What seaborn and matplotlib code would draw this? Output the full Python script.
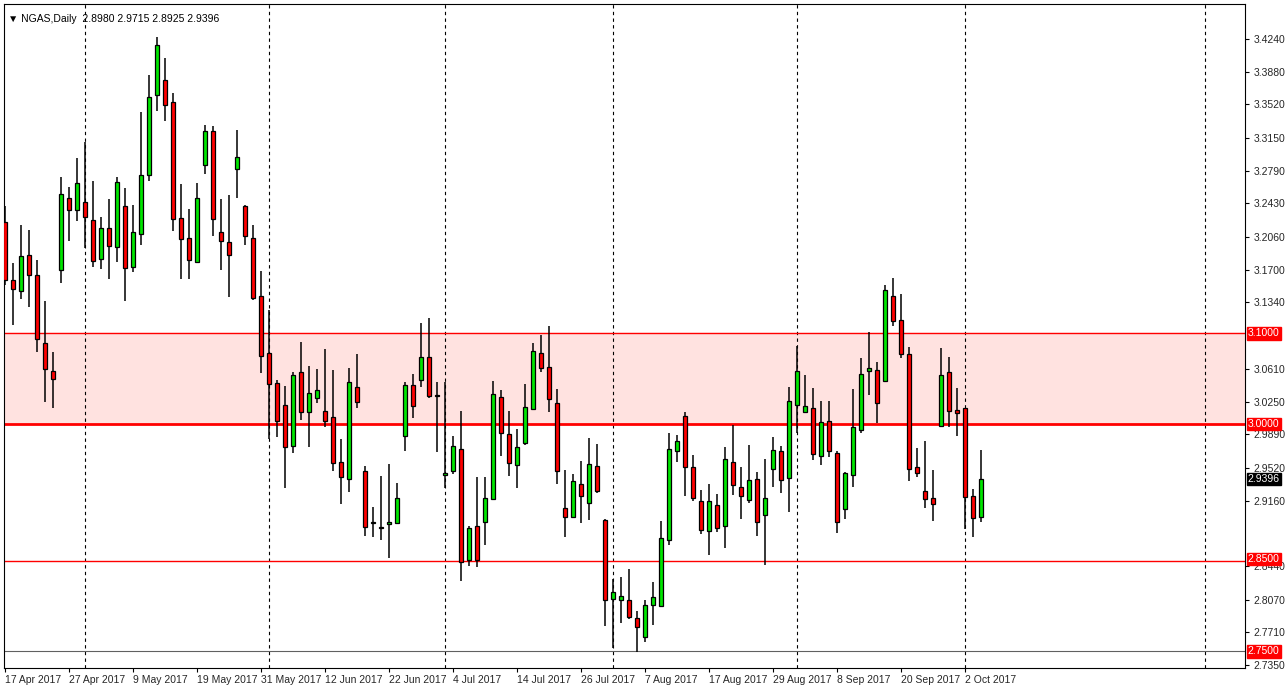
import numpy as np
import pandas as pd
import matplotlib
matplotlib.use("Agg")
import matplotlib.pyplot as plt
import seaborn as sns

opens = [3.223,3.159,3.147,3.186,3.164,3.089,3.059,3.170,3.249,3.236,3.245,3.225,3.182,3.216,3.195,3.240,3.173,3.209,3.274,3.362,
3.379,3.355,3.227,3.205,3.179,3.285,3.323,3.212,3.201,3.281,3.240,3.205,3.141,3.078,3.045,3.021,2.976,3.058,3.013,3.029,
3.015,3.008,2.958,2.940,3.041,2.949,2.891,2.887,2.890,2.891,2.987,3.043,3.049,3.074,3.032,2.944,2.949,2.973,2.851,2.888,
2.892,2.918,3.030,2.989,2.955,2.979,3.017,3.078,3.063,3.023,2.908,2.898,2.934,2.913,2.954,2.895,2.808,2.807,2.807,2.787,
2.766,2.801,2.800,2.873,2.971,3.009,2.953,2.916,2.883,2.911,2.888,2.958,2.931,2.917,2.940,2.900,2.951,2.971,2.941,3.021,
3.013,3.018,2.965,3.004,2.968,2.907,2.944,2.994,3.059,3.060,3.048,3.141,3.115,3.077,2.953,2.927,2.919,2.998,3.058,3.016,
3.018,2.921,2.898]
highs = [3.240,3.177,3.219,3.214,3.181,3.136,3.080,3.272,3.261,3.293,3.311,3.268,3.228,3.248,3.272,3.260,3.241,3.344,3.384,3.426,
3.403,3.365,3.264,3.237,3.266,3.329,3.328,3.248,3.252,3.324,3.241,3.219,3.169,3.126,3.049,3.042,3.058,3.091,3.064,3.061,
3.083,3.060,2.984,3.062,3.077,2.954,2.909,2.943,2.956,2.935,3.046,3.055,3.111,3.117,3.046,3.046,2.987,3.015,2.888,2.942,
2.942,3.048,3.038,3.015,2.995,3.044,3.089,3.098,3.108,3.039,2.950,2.945,2.960,2.985,2.978,2.896,2.830,2.832,2.841,2.794,
2.807,2.826,2.893,2.990,2.988,3.013,2.966,2.928,2.934,2.923,2.975,2.999,2.953,2.977,2.947,2.962,2.986,2.976,3.041,3.086,
3.054,3.040,3.026,3.026,2.971,2.947,3.039,3.073,3.101,3.069,3.153,3.161,3.143,3.085,2.974,2.982,2.950,3.084,3.074,3.040,
3.018,2.929,2.9715]
lows = [3.153,3.109,3.138,3.129,3.080,3.024,3.018,3.155,3.202,3.224,3.194,3.173,3.171,3.160,3.179,3.136,3.168,3.197,3.268,3.345,
3.334,3.213,3.160,3.160,3.177,3.275,3.207,3.170,3.140,3.249,3.197,3.137,3.056,2.984,2.986,2.930,2.968,3.005,2.975,3.023,
2.997,2.949,2.912,2.925,3.018,2.877,2.876,2.873,2.853,2.890,2.971,3.007,3.041,3.029,2.969,2.930,2.945,2.827,2.844,2.843,
2.867,2.917,2.965,2.943,2.930,2.977,3.016,3.058,3.013,2.934,2.876,2.898,2.891,2.895,2.924,2.778,2.754,2.781,2.786,2.749,
2.760,2.779,2.800,2.867,2.958,2.921,2.916,2.879,2.856,2.881,2.864,2.922,2.896,2.913,2.877,2.845,2.931,2.924,2.903,2.990,
3.013,2.961,2.955,2.964,2.880,2.896,2.931,2.990,3.032,3.001,3.048,3.108,3.073,2.938,2.942,2.908,2.893,2.997,2.997,2.987,
2.885,2.876,2.8925]
closes = [3.159,3.149,3.185,3.164,3.094,3.061,3.050,3.253,3.236,3.266,3.228,3.180,3.216,3.196,3.267,3.172,3.212,3.274,3.360,3.417,
3.351,3.226,3.204,3.181,3.249,3.323,3.226,3.202,3.186,3.294,3.207,3.139,3.075,3.044,3.004,2.975,3.054,3.013,3.034,3.038,
3.004,2.957,2.942,3.046,3.024,2.887,2.892,2.886,2.892,2.919,3.043,3.020,3.074,3.031,3.031,2.946,2.976,2.848,2.886,2.851,
2.919,3.033,2.990,2.957,2.975,3.019,3.081,3.062,3.028,2.949,2.898,2.938,2.921,2.956,2.927,2.807,2.815,2.811,2.788,2.777,
2.801,2.810,2.875,2.973,2.982,2.953,2.919,2.884,2.916,2.886,2.962,2.933,2.921,2.939,2.892,2.919,2.972,2.939,3.026,3.059,
3.020,2.967,3.002,2.971,2.892,2.946,2.997,3.055,3.062,3.023,3.148,3.114,3.077,2.951,2.946,2.918,2.912,3.054,3.015,3.012,
2.920,2.897,2.9396]

date_labels = ["17 Apr 2017","27 Apr 2017","9 May 2017","19 May 2017","31 May 2017","12 Jun 2017",
               "22 Jun 2017","4 Jul 2017","14 Jul 2017","26 Jul 2017","7 Aug 2017","17 Aug 2017",
               "29 Aug 2017","8 Sep 2017","20 Sep 2017","2 Oct 2017"]
date_label_bars = [0,8,16,24,32,40,48,56,64,72,80,88,96,104,112,120]
separator_bars = [10,33,55,76,99,120,150]
price_ticks = [3.4240,3.3880,3.3520,3.3150,3.2790,3.2430,3.2060,3.1700,3.1340,3.0610,3.0250,
               2.9890,2.9520,2.9160,2.8440,2.8070,2.7710,2.7350]
levels_red = [3.1000,3.0000,2.8500]
level_grey = 2.7500
zone = (3.0, 3.1)

df = pd.DataFrame({"o":opens,"h":highs,"l":lows,"c":closes})
df["i"] = np.arange(len(df))
df["up"] = df["c"] >= df["o"]

sns.set_theme(style="white")
plt.rcParams['font.family'] = ['Liberation Sans', 'DejaVu Sans']

W, H = 1286, 691
fig = plt.figure(figsize=(W/100, H/100), dpi=100)
ax = fig.add_axes([4/W, (H-668)/H, 1241/W, 664/H])
ax.set_xlim(-0.125, 155)
ax.set_ylim(2.7317, 3.4625)

ax.axhspan(zone[0], zone[1], color="#ffe2e0", zorder=0)
for b in separator_bars:
    ax.axvline(b, color="black", lw=0.8, ls=(0,(3,3)), zorder=1)
ax.axhline(3.1, color="red", lw=1, zorder=2)
ax.axhline(3.0, color="red", lw=2, zorder=2)
ax.axhline(2.85, color="red", lw=1, zorder=2)
ax.axhline(level_grey, color="#606060", lw=0.8, zorder=2)

ax.vlines(df["i"], df["l"], df["h"], color="black", lw=1.1, zorder=3)
bottoms = np.minimum(df["o"], df["c"])
heights = np.maximum(np.abs(df["c"]-df["o"]), 0.0006)
cols = np.where(df["up"], "#00e600", "#ff0000")
ax.bar(df["i"], heights, bottom=bottoms, width=0.62, color=cols,
       edgecolor="black", linewidth=0.9, zorder=4)

ax.yaxis.tick_right()
ax.set_yticks(price_ticks)
ax.set_yticklabels([f"{t:.4f}" for t in price_ticks], fontsize=7.5)
ax.tick_params(axis="y", length=3, width=0.8, color="black", pad=3, right=True)
ax.set_xticks(date_label_bars)
ax.set_xticklabels(date_labels, fontsize=7.5, ha="left")
ax.tick_params(axis="x", length=3, width=0.8, color="black", pad=2, bottom=True)
for s in ax.spines.values():
    s.set_color("black"); s.set_linewidth(0.8)

def label(y, text, bg, dy=0):
    ax.annotate(text, xy=(1, y), xycoords=("axes fraction", "data"),
                xytext=(2, dy), textcoords="offset points", va="center", ha="left",
                fontsize=7.5, color="white",
                bbox=dict(boxstyle="square,pad=0.12", fc=bg, ec=bg))
for v in levels_red:
    label(v, f"{v:.4f}", "red", 1 if v == 2.85 else 0)
label(level_grey, f"{level_grey:.4f}", "red")
label(closes[-1], f"{closes[-1]:.4f}", "black")

ax.text(0.003, 0.985, "\u25bc NGAS,Daily  %.4f %.4f %.4f %.4f" % (opens[-1], highs[-1], lows[-1], closes[-1]),
        transform=ax.transAxes, fontsize=7.5, va="top", ha="left", color="black")

fig.savefig("out.png", dpi=100, facecolor="white")
